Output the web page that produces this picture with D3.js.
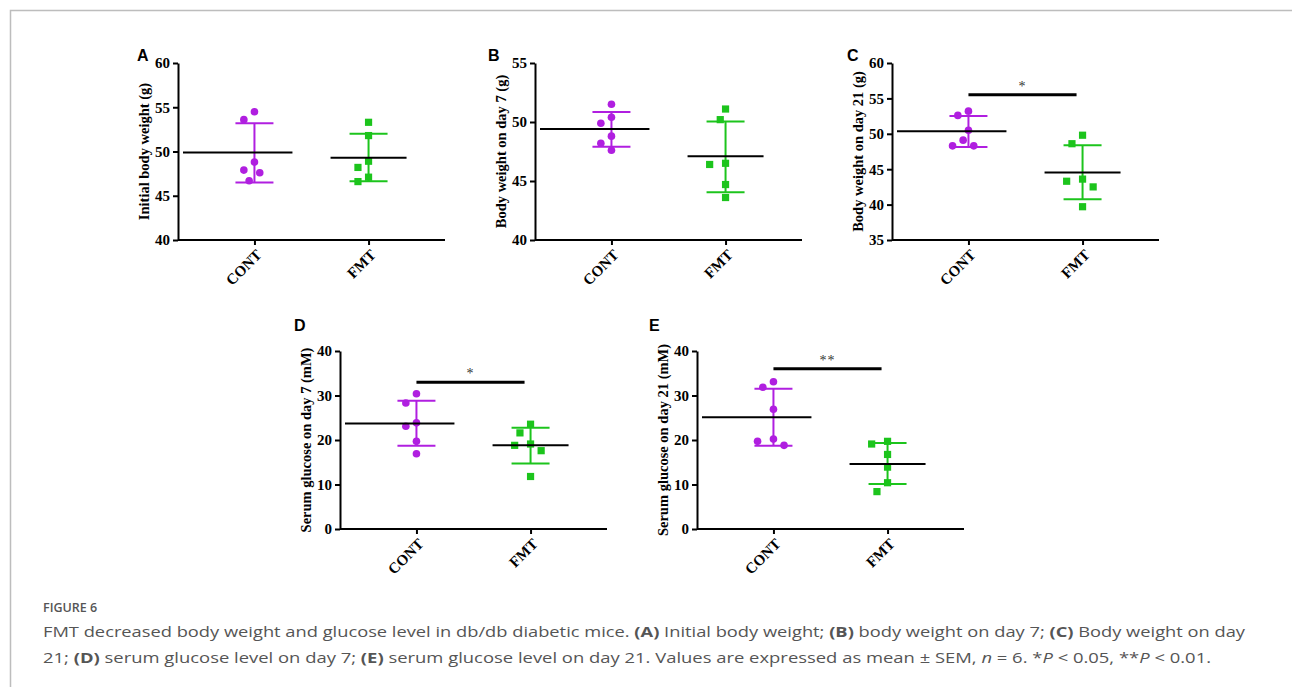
<!DOCTYPE html>
<html>
<head>
<meta charset="utf-8">
<script src="https://cdn.jsdelivr.net/npm/d3@7"></script>
<style>
  body { margin: 0; background: #fff; }
  svg { display: block; }
</style>
</head>
<body>
<script>
var width = 1292, height = 687;

// groups
var groups = ["CONT", "FMT"];

// A: initial body weight (g)
var initCont = [54.5, 53.6, 48.8, 47.9, 47.6, 46.7];
var initFmt = [53.3, 51.8, 48.9, 48.2, 47.1, 46.6];
var initMean = [49.9, 49.3];
var initBar = [[46.5, 53.2], [46.65, 52.0]];

// B: body weight on day 7 (g)
var day7Cont = [51.5, 50.4, 49.9, 48.8, 48.2, 47.6];
var day7Fmt = [51.1, 50.2, 46.5, 46.4, 44.7, 43.6];
var day7Mean = [49.4, 47.1];
var day7Bar = [[47.9, 50.85], [44.05, 50.05]];

// C: body weight on day 21 (g)
var day21Cont = [53.2, 52.6, 50.5, 49.1, 48.3, 48.3];
var day21Fmt = [49.8, 48.6, 43.6, 43.3, 42.5, 39.7];
var day21Mean = [50.35, 44.55];
var day21Bar = [[48.15, 52.5], [40.75, 48.4]];

// D: serum glucose on day 7 (mM)
var glu7Cont = [30.4, 28.3, 23.85, 23.1, 19.7, 16.9];
var glu7Fmt = [23.55, 21.6, 19.1, 18.8, 17.6, 11.8];
var glu7Mean = [23.7, 18.8];
var glu7Bar = [[18.7, 28.8], [14.7, 22.75]];

// E: serum glucose on day 21 (mM)
var glu21Cont = [33.1, 31.85, 26.9, 20.2, 19.7, 18.8];
var glu21Fmt = [19.7, 19.1, 16.75, 13.9, 10.4, 8.4];
var glu21Mean = [25.1, 14.6];
var glu21Bar = [[18.7, 31.5], [10.1, 19.3]];

var panelLetters = ["A", "B", "C", "D", "E"];
var yLabels = ["Initial body weight (g)", "Body weight on day 7 (g)", "Body weight on day 21 (g)",
               "Serum glucose on day 7 (mM)", "Serum glucose on day 21 (mM)"];
var yDomains = [[40, 60], [40, 55], [35, 60], [0, 40], [0, 40]];
var yTicks = [[40, 45, 50, 55, 60], [40, 45, 50, 55], [35, 40, 45, 50, 55, 60],
              [0, 10, 20, 30, 40], [0, 10, 20, 30, 40]];
// significance: [bar value, label]
var sigs = [null, null, [55.5, "*"], [33, "*"], [36, "**"]];

var captionLine1 = [["FMT decreased body weight and glucose level in db/db diabetic mice. ", ""],
  ["(A)", "b"], [" Initial body weight; ", ""], ["(B)", "b"], [" body weight on day 7; ", ""],
  ["(C)", "b"], [" Body weight on day", ""]];
var captionLine2 = [["21; ", ""], ["(D)", "b"], [" serum glucose level on day 7; ", ""],
  ["(E)", "b"], [" serum glucose level on day 21. Values are expressed as mean \u00b1 SEM, ", ""],
  ["n", "i"], [" = 6. *", ""], ["P", "i"], [" < 0.05, **", ""], ["P", "i"], [" < 0.01.", ""]];

var panels = [
  {cont: initCont, fmt: initFmt, mean: initMean, bar: initBar},
  {cont: day7Cont, fmt: day7Fmt, mean: day7Mean, bar: day7Bar},
  {cont: day21Cont, fmt: day21Fmt, mean: day21Mean, bar: day21Bar},
  {cont: glu7Cont, fmt: glu7Fmt, mean: glu7Mean, bar: glu7Bar},
  {cont: glu21Cont, fmt: glu21Fmt, mean: glu21Mean, bar: glu21Bar}
];

// layout: plot origin (left of x axis, top of y axis) and panel letter offsets
var layout = [
  {x: 178, top: 63, bottom: 240, lx: -41, ly: -2},
  {x: 535, top: 63, bottom: 240, lx: -47, ly: -2},
  {x: 892, top: 63, bottom: 240, lx: -45, ly: -2},
  {x: 340, top: 351, bottom: 529, lx: -46, ly: -20},
  {x: 697, top: 351, bottom: 529, lx: -48, ly: -20}
];
var plotW = 267;
var colors = ["#b01fe0", "#1cc41c"];
var serif = "'Liberation Serif', 'Times New Roman', serif";

var svg = d3.select("body").append("svg")
    .attr("width", width)
    .attr("height", height);

// figure frame
svg.append("path")
    .attr("d", `M${width},10.5H10.5V${height}`)
    .attr("fill", "none")
    .attr("stroke", "#bdbdbd")
    .attr("stroke-width", 1.5);

// simple swarm: spread points horizontally if they collide
function swarm(ys, step, minDist) {
  var placed = [];
  var order = ys.map((y, i) => i).sort((a, b) => ys[a] - ys[b]);
  var offs = new Array(ys.length);
  order.forEach(i => {
    for (var k = 0; k < 12; k++) {
      var o = (k === 0 ? 0 : (k % 2 ? -1 : 1) * Math.ceil(k / 2)) * step;
      var ok = placed.every(p => Math.hypot(p.x - o, p.y - ys[i]) >= minDist);
      if (ok) { offs[i] = o; placed.push({x: o, y: ys[i]}); break; }
    }
  });
  return offs;
}

panels.forEach((p, pi) => {
  var L = layout[pi];
  var g = svg.append("g");

  var x = d3.scalePoint().domain(groups).range([L.x, L.x + plotW]).padding(0.67);
  var y = d3.scaleLinear().domain(yDomains[pi]).range([L.bottom, L.top]);

  // panel letter
  g.append("text")
      .attr("x", L.x + L.lx)
      .attr("y", L.top + L.ly)
      .attr("font-family", "'Liberation Sans', Arial, sans-serif")
      .attr("font-weight", "bold")
      .attr("font-size", 16)
      .text(panelLetters[pi]);

  // y axis
  var ya = g.append("g")
      .attr("transform", `translate(${L.x},0)`)
      .call(d3.axisLeft(y).tickValues(yTicks[pi]).tickSize(5).tickSizeOuter(0).tickPadding(3));
  ya.select(".domain").attr("stroke-width", 2);
  ya.selectAll(".tick line").attr("stroke-width", 2);
  ya.selectAll("text")
      .attr("font-family", serif)
      .attr("font-weight", "bold")
      .attr("font-size", 15)
      .attr("fill", "#000");

  // x axis
  var xa = g.append("g")
      .attr("transform", `translate(0,${L.bottom})`)
      .call(d3.axisBottom(x).tickSize(5).tickSizeOuter(0));
  xa.select(".domain").attr("stroke-width", 2)
      .attr("d", `M${L.x},0H${L.x + plotW}`);
  xa.selectAll(".tick line").attr("stroke-width", 2);
  xa.selectAll("text")
      .attr("font-family", serif)
      .attr("font-weight", "bold")
      .attr("font-size", 15)
      .attr("fill", "#000")
      .attr("text-anchor", "end")
      .attr("dy", "0.35em")
      .attr("transform", "translate(4,12) rotate(-45)")
      .attr("y", 0);

  // y label
  g.append("text")
      .attr("transform", `translate(${L.x - 34},${(L.top + L.bottom) / 2}) rotate(-90)`)
      .attr("text-anchor", "middle")
      .attr("dy", "0.35em")
      .attr("font-family", serif)
      .attr("font-weight", "bold")
      .attr("font-size", 14.5)
      .text(yLabels[pi]);

  [p.cont, p.fmt].forEach((vals, gi) => {
    var cx = x(groups[gi]);
    var col = colors[gi];

    // error bar
    var lo = y(p.bar[gi][0]), hi = y(p.bar[gi][1]);
    g.append("line").attr("x1", cx).attr("x2", cx).attr("y1", lo).attr("y2", hi)
        .attr("stroke", col).attr("stroke-width", 2);
    [lo, hi].forEach(v => {
      g.append("line").attr("x1", cx - 19).attr("x2", cx + 19).attr("y1", v).attr("y2", v)
          .attr("stroke", col).attr("stroke-width", 2);
    });

    // points
    var ys = vals.map(v => y(v));
    var offs = swarm(ys, 5.3, 11);
    if (gi === 0) {
      g.selectAll(null).data(vals).join("circle")
          .attr("cx", (d, i) => cx + offs[i])
          .attr("cy", d => y(d))
          .attr("r", 3.8)
          .attr("fill", col);
    } else {
      g.selectAll(null).data(vals).join("rect")
          .attr("x", (d, i) => cx + offs[i] - 3.6)
          .attr("y", d => y(d) - 3.6)
          .attr("width", 7.2)
          .attr("height", 7.2)
          .attr("fill", col);
    }

    // mean line
    var m = y(p.mean[gi]);
    var left = gi === 0 ? L.x + 5 : cx - 38;
    g.append("line").attr("x1", left).attr("x2", cx + 38).attr("y1", m).attr("y2", m)
        .attr("stroke", "#000").attr("stroke-width", 2);
  });

  // significance bar
  var s = sigs[pi];
  if (s) {
    var x1 = x(groups[0]), x2 = x(groups[1]) - 6;
    g.append("line").attr("x1", x1).attr("x2", x2).attr("y1", y(s[0])).attr("y2", y(s[0]))
        .attr("stroke", "#000").attr("stroke-width", 3);
    g.append("text")
        .attr("x", (x1 + x2) / 2)
        .attr("y", y(s[0]) - 4)
        .attr("text-anchor", "middle")
        .attr("font-family", serif)
        .attr("font-size", 14)
        .attr("letter-spacing", 1)
        .attr("fill", "#333")
        .text(s[1]);
  }
});

// caption
var cap = svg.append("g")
    .attr("font-family", "'Open Sans', Lato, sans-serif")
    .attr("fill", "#555");

cap.append("text")
    .attr("x", 43).attr("y", 612)
    .attr("font-size", 12.5)
    .attr("font-weight", 600)
    .text("FIGURE 6");

function captionLine(parts, yPos, len) {
  var t = cap.append("text")
      .attr("x", 43).attr("y", yPos)
      .attr("font-size", 15)
      .attr("textLength", len)
      .attr("lengthAdjust", "spacingAndGlyphs");
  t.selectAll("tspan").data(parts).join("tspan")
      .attr("font-weight", d => d[1] === "b" ? "bold" : null)
      .attr("font-style", d => d[1] === "i" ? "italic" : null)
      .text(d => d[0]);
}
captionLine(captionLine1, 637, 1202);
captionLine(captionLine2, 663, 1168);
</script>
</body>
</html>
